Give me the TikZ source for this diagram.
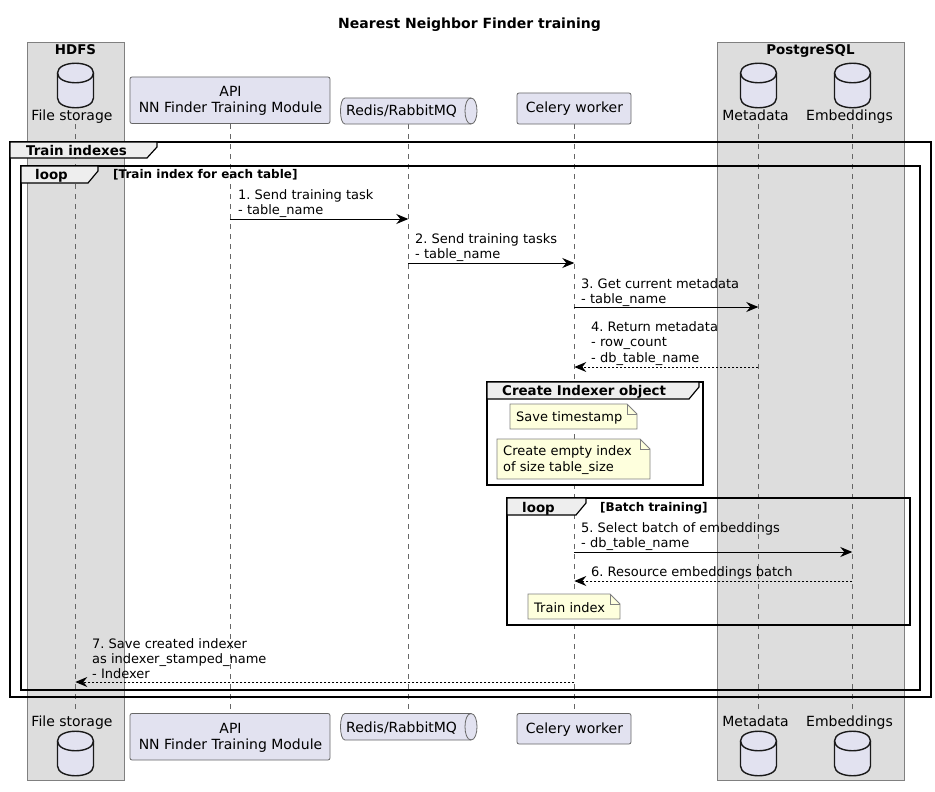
\documentclass[tikz,border=0pt]{standalone}
\usepackage{fontspec}
\setmainfont{DejaVu Sans}
\frenchspacing
\usepackage{tikz}
\usetikzlibrary{arrows.meta}
\usetikzlibrary{positioning}
\definecolor{partfill}{HTML}{E2E2F0}
\definecolor{boxfill}{HTML}{DDDDDD}
\definecolor{notefill}{HTML}{FEFFDD}
\definecolor{tabfill}{HTML}{EEEEEE}
\tikzstyle{boxS}=[draw=black!50,fill=boxfill,line width=1pt]
\tikzstyle{boxT}=[font=\fontsize{13.4}{15}\selectfont\bfseries,inner sep=0,anchor=base]
\tikzstyle{Apart}=[draw=black!60,fill=partfill,rounded corners=2pt,line width=.8pt]
\tikzstyle{Adb}=[draw=black!90,fill=partfill,line width=1.4pt]
\tikzstyle{partT}=[font=\fontsize{14}{16.6}\selectfont,inner sep=0,align=center]
\tikzstyle{partB}=[partT,anchor=base]
\tikzstyle{life}=[draw=black!60,line width=.8pt,dash pattern=on 5pt off 5pt]
\tikzstyle{fram}=[draw=black,line width=1.6pt]
\tikzstyle{Atab}=[draw=black,fill=tabfill,line width=1.2pt]
\tikzstyle{tabT}=[font=\fontsize{13.4}{15}\selectfont\bfseries,inner sep=0,anchor=base west]
\tikzstyle{condT}=[font=\fontsize{12}{13}\selectfont\bfseries,inner sep=0,anchor=base west]
\tikzstyle{Anote}=[draw=black!50,fill=notefill,line width=.8pt]
\tikzstyle{msgT}=[font=\fontsize{13}{15.3}\selectfont,inner sep=0,anchor=west,align=left]
\tikzstyle{msg}=[draw=black,line width=1pt,-{Stealth[length=12pt,width=10pt,inset=4pt]}]
\tikzstyle{ret}=[msg,dash pattern=on 2pt off 2pt]
% #1 name, #2 x, #3 top
\newcommand{\dbicon}[3]{\path[Adb,shift={(#2,#3)}] (-18,10) .. controls (-18,-3) and (18,-3) .. (18,10) -- (18,35) .. controls (18,48) and (-18,48) .. (-18,35) -- cycle;
  \draw[Adb,fill=none,shift={(#2,#3)}] (-18,10) .. controls (-18,23) and (18,23) .. (18,10);\coordinate (#1) at (#2,#3);}
% #1 name, #2 top, #3 bottom, #4 baseline
\newcommand{\queue}[4]{\path[Apart,rounded corners=0] (345,#2) -- (471,#2) .. controls (479,#2) and (479,#3) .. (471,#3) -- (345,#3) .. controls (339,#3) and (339,#2) .. (345,#2) -- cycle;
  \draw[draw=black!60,line width=.8pt] (471,#2) .. controls (463,#2) and (463,#3) .. (471,#3);\node[partT,anchor=base west] (#1) at (346,#4) {Redis/RabbitMQ};}
% #1 name, #2 left, #3 top, #4 right, #5 bottom, #6 text
\newcommand{\notel}[6]{\path[Anote] (#2,#3) -- (#4-10,#3) -- (#4,#3+10) -- (#4,#5) -- (#2,#5) -- cycle;
  \draw[Anote,fill=none] (#4-10,#3) -- (#4-10,#3+10) -- (#4,#3+10);\node[msgT] (#1) at (#2+6,{(#3+#5)/2+1}) {#6};}
% #1 name, #2 left, #3 top, #4 right, #5 bottom, #6 tab right, #7 tab bottom
\newcommand{\framel}[7]{\draw[fram] (#2,#3) rectangle (#4,#5);
  \path[Atab] (#2,#3) -- (#6,#3) -- (#6,#3+5) -- (#6-10,#7) -- (#2,#7) -- cycle;\coordinate (#1) at (#2,#3);}
% #1 name, #2 from, #3 to, #4 y, #5 style
\newcommand{\msgl}[5]{\coordinate (#1s) at (#2 |- 0,#4);\coordinate (#1e) at (#3 |- 0,#4);\draw[#5] (#1s) -- (#1e);}
\begin{document}
\begin{tikzpicture}[x=1pt,y=-1pt]
  \useasboundingbox (0,0) rectangle (935,792);
  \node[font=\fontsize{14}{16}\selectfont\bfseries,inner sep=0] (title) at (469.5,24.5) {Nearest Neighbor Finder training};

  \draw[boxS] (27,43) rectangle (124,780);
  \draw[boxS] (717,43) rectangle (904,780);
  \node[boxT] (hdfs) at (75.5,54.5) {HDFS};
  \node[boxT] (pg) at (810.5,54.5) {PostgreSQL};

  \foreach \n/\x in {fs/75.3,api/230.3,mq/408.3,cel/574.3,meta/758.3,emb/852.3} {
    \coordinate (\n) at (\x,124);
    \coordinate (\n b) at (\x,713);
    \draw[life] (\n) -- (\n b);
  }

  \framel{train}{10}{142}{931}{697}{157}{158};
  \node[tabT] (trainT) at (26,155) {Train indexes};
  \framel{each}{21}{166}{920}{690}{98}{183};
  \node[tabT] (eachT) at (35,179) {loop};
  \node[condT] (eachC) at (113,178.5) {[Train index for each table]};
  \framel{obj}{487}{382}{703}{485}{699}{399};
  \node[tabT] (objT) at (502,395.5) {Create Indexer object};
  \framel{batch}{507}{498}{910}{625}{586}{515};
  \node[tabT] (batchT) at (522,512) {loop};
  \node[condT] (batchC) at (600,511.5) {[Batch training]};

  \notel{n1}{510}{404}{637}{429}{Save timestamp};
  \notel{n2}{497}{439}{650}{479}{Create empty index\\of size table\_size};
  \notel{n3}{528}{594}{620}{619}{Train index};

  \msgl{m1}{api}{mq}{219}{msg};
  \node[msgT] (m1T) at (238,203.5) {1. Send training task\\- table\_name};
  \msgl{m2}{mq}{cel}{263}{msg};
  \node[msgT] (m2T) at (415,247.5) {2. Send training tasks\\- table\_name};
  \msgl{m3}{cel}{meta}{307}{msg};
  \node[msgT] (m3T) at (581,292.5) {3. Get current metadata\\- table\_name};
  \msgl{m4}{meta}{cel}{367}{ret};
  \node[msgT] (m4T) at (591,343.5) {4. Return metadata\\- row\_count\\- db\_table\_name};
  \msgl{m5}{cel}{emb}{552}{msg};
  \node[msgT] (m5T) at (581,536.5) {5. Select batch of embeddings\\- db\_table\_name};
  \msgl{m6}{emb}{cel}{581}{ret};
  \node[msgT] (m6T) at (591,573) {6. Resource embeddings batch};
  \msgl{m7}{cel}{fs}{682}{ret};
  \node[msgT] (m7T) at (92,658.5) {7. Save created indexer\\as indexer\_stamped\_name\\- Indexer};

  \dbicon{fsI}{75.5}{63};
  \node[partB] (fsL) at (72,120.7) {File storage};
  \dbicon{metaI}{758.5}{63};
  \node[partB] (metaL) at (755.5,120.7) {Metadata};
  \dbicon{embI}{852.5}{63};
  \node[partB] (embL) at (849.5,120.7) {Embeddings};
  \node[partB] (fsLb) at (72,726.7) {File storage};
  \dbicon{fsIb}{75.5}{731};
  \node[partB] (metaLb) at (755.5,726.7) {Metadata};
  \dbicon{metaIb}{758.5}{731};
  \node[partB] (embLb) at (849.5,726.7) {Embeddings};
  \dbicon{embIb}{852.5}{731};

  \path[Apart] (130,77) rectangle (330,123.5);
  \node[partT] (apiT) at (230.5,101) {API\\NN Finder Training Module};
  \path[Apart] (130,713.5) rectangle (330,760);
  \node[partT] (apiB) at (230.5,738) {API\\NN Finder Training Module};
  \queue{mqT}{98}{124}{116};
  \queue{mqB}{713.5}{740}{732.7};
  \path[Apart] (517,93) rectangle (631,124);
  \node[partB] (celT) at (574.5,112.7) {Celery worker};
  \path[Apart] (517,713.5) rectangle (631,744);
  \node[partB] (celB) at (574.5,733.7) {Celery worker};
\end{tikzpicture}
\end{document}
